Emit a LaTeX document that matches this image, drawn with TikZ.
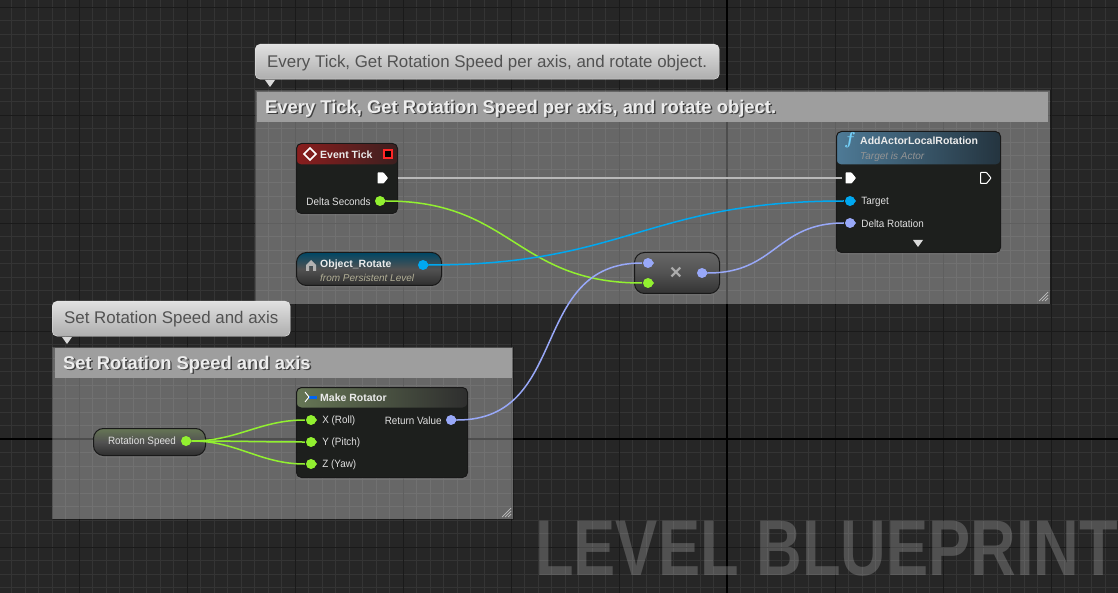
\documentclass[tikz,border=0pt]{standalone}
\usepackage{fontspec}
\setmainfont{Liberation Sans}
\newfontfamily\stampfont[FakeStretch=0.8]{Liberation Sans}
\newfontfamily\pinfont[FakeStretch=0.93]{Liberation Sans}
\usetikzlibrary{positioning, shadows}
\definecolor{canvas}{HTML}{262626}
\definecolor{gridfine}{HTML}{343434}
\definecolor{gridbig}{HTML}{1A1A1A}
\definecolor{wirefloat}{HTML}{92F030}
\definecolor{wireobject}{HTML}{00A8F0}
\definecolor{wirerotator}{HTML}{98A8F8}
\definecolor{wireexec}{HTML}{B8B8B8}
\definecolor{bodydark}{HTML}{1D1F1D}
\definecolor{eventleft}{HTML}{8A1E1E}
\definecolor{eventright}{HTML}{3C1F1F}
\definecolor{callleft}{HTML}{4E7A96}
\definecolor{callright}{HTML}{24343F}
\newcommand{\shadowed}[1]{\rlap{\raisebox{-1.4pt}{\hspace{1.4pt}\textcolor{black!75}{#1}}}#1} % title with its dark edge
\tikzset{
	commentbox/.style={fill=white, fill opacity=0.3, draw=black, draw opacity=0.25, anchor=north west, inner sep=0pt}, % the see-through group
	titlebar/.style={fill=white!62!black, anchor=north west, inner sep=0pt}, % the band on top of a group
	titletext/.style={font=\fontsize{18.4}{22}\selectfont\bfseries, text=white!93!black, anchor=west, inner sep=0pt},
	bubble/.style={top color=white!88!black, bottom color=white!68!black, draw=white!92!black, rounded corners=5pt, anchor=north west, inner sep=0pt, minimum height=35pt},
	bubbletext/.style={font=\fontsize{16.9}{20}\selectfont, text=black!68, anchor=west, inner sep=0pt},
	nodeshadow/.style={drop shadow={opacity=0.35, shadow xshift=0pt, shadow yshift=-2pt}},
	bpnode/.style={draw=black!90, line width=1pt, fill=bodydark, rounded corners=5pt, anchor=north west, inner sep=0pt, nodeshadow}, % every blueprint node
	header/.style n args={3}{path picture={\shade[left color=#1, right color=#2] (path picture bounding box.north west) rectangle ([yshift=-#3]path picture bounding box.north east);}},
	pill/.style n args={3}{draw=black!90, line width=1pt, nodeshadow, top color=#1, bottom color=#3, middle color=#2, rounded corners=10pt, anchor=north west, inner sep=0pt},
	datapin/.style={minimum width=12pt, minimum height=11pt, inner sep=0pt, path picture={
		\fill[#1] (path picture bounding box.center) circle (5pt);
		\fill[#1] ([shift={(3pt,3.5pt)}]path picture bounding box.center) -- ([xshift=6pt]path picture bounding box.center) -- ([shift={(3pt,-3.5pt)}]path picture bounding box.center) -- cycle;}},
	execpin/.style={minimum width=13pt, minimum height=13pt, inner sep=0pt, path picture={
		\path[#1, line width=1pt, rounded corners=0.6pt] ([shift={(-4.5pt,5.5pt)}]path picture bounding box.center) -- ([shift={(1.5pt,5.5pt)}]path picture bounding box.center) -- ([xshift=6pt]path picture bounding box.center) -- ([shift={(1.5pt,-5.5pt)}]path picture bounding box.center) -- ([shift={(-4.5pt,-5.5pt)}]path picture bounding box.center) -- cycle;}},
	pintext/.style={font=\fontsize{10.6}{12}\selectfont\pinfont, text=white!88!black, inner sep=0pt, yshift=-1pt},
	headtext/.style={font=\fontsize{10.5}{12}\selectfont\bfseries, text=white!92!black, anchor=west, inner sep=0pt},
	subtext/.style={font=\fontsize{10}{12}\selectfont\itshape, text=#1, anchor=west, inner sep=0pt},
	wire/.style={draw=#1, line width=1.5pt, out=0, in=180},
	gripline/.style={draw=white!75!black, line width=0.7pt},
}

\begin{document}
\begin{tikzpicture}[x=1pt, y=-1pt]
	\useasboundingbox (0,0) rectangle (1118,593);
	\fill[canvas] (0,0) rectangle (1118,593);
	% grid
	\foreach \k in {0,...,82} \draw[gridfine, line width=0.8pt] ({11.5+13.5*\k},0) -- ({11.5+13.5*\k},593);
	\foreach \k in {0,...,43} \draw[gridfine, line width=0.8pt] (0,{7+13.5*\k}) -- (1118,{7+13.5*\k});
	\foreach \k in {0,...,10} \draw[gridbig, line width=0.8pt] ({79+108*\k},0) -- ({79+108*\k},593);
	\foreach \k in {0,...,5} \draw[gridbig, line width=0.8pt] (0,{7+108*\k}) -- (1118,{7+108*\k});
	\draw[black, line width=1.3pt] (727,0) -- (727,593);
	\draw[black, line width=1.3pt] (0,439) -- (1118,439);

	% watermark
	\node[font=\fontsize{79}{80}\selectfont\stampfont\bfseries, text=white, text opacity=0.2, anchor=west, inner sep=0pt] (stamp) at (535,549) {LEVEL BLUEPRINT};

	% group for the tick
	\node[commentbox, minimum width=795pt, minimum height=214pt] (tickgroup) at (255,90) {};
	\node[titlebar, minimum width=791pt, minimum height=30pt] (tickbar) at (257,92) {};
	\node[titletext] (ticktitle) at (265,109) {\shadowed{Every Tick, Get Rotation Speed per axis, and rotate object.}};
	\node[bubble, minimum width=464pt] (tickbubble) at (255,44) {};
	\node[bubbletext] (tickbubbletext) at (267,63) {Every Tick, Get Rotation Speed per axis, and rotate object.};
	\fill[white!85!black] (265,80) -- (275,80) -- (270,87) -- cycle;
	\foreach \d in {3,6,9} \draw[gripline] (1048-\d,301) -- (1048,301-\d);

	% group for the speed
	\node[commentbox, minimum width=461pt, minimum height=172pt] (speedgroup) at (52,347) {};
	\node[titlebar, minimum width=457pt, minimum height=30pt] (speedbar) at (55,348) {};
	\node[titletext] (speedtitle) at (63,365) {\shadowed{Set Rotation Speed and axis}};
	\node[bubble, minimum width=238pt] (speedbubble) at (52,301) {};
	\node[bubbletext] (speedbubbletext) at (64,319) {Set Rotation Speed and axis};
	\fill[white!85!black] (62,337) -- (72,337) -- (67,344) -- cycle;
	\foreach \d in {3,6,9} \draw[gripline] (511-\d,517) -- (511,517-\d);

	% event node
	\node[bpnode, minimum width=101pt, minimum height=70pt, header={eventleft}{eventright}{21pt}] (tick) at (296,143) {};
	\draw[white, line width=1.6pt] (304,154) -- (310,148) -- (316,154) -- (310,160) -- cycle;
	\node[headtext] (ticklabel) at (320,155) {Event Tick};
	\draw[red!85!white, fill=black, line width=1.2pt] (384,150) rectangle (392,158);
	\node[execpin={fill=white}] (tickexec) at (382,178) {};
	\node[datapin=wirefloat] (tickdelta) at (380,201) {};
	\node[pintext, left=3pt of tickdelta] (tickdeltalabel) {Delta Seconds};

	% object node
	\node[pill={wireobject!42!black}{black!68}{black!82}, minimum width=145pt, minimum height=33pt] (object) at (296,252) {};
	\fill[black!30] (306,265) -- (311,260) -- (316,265) -- (316,271) -- (313,271) -- (313,266) -- (309,266) -- (309,271) -- (306,271) -- cycle;
	\node[headtext] (objectlabel) at (320,265) {Object\_Rotate};
	\node[subtext=yellow!30!black!50!white] (objectsub) at (320,278) {from Persistent Level};
	\node[datapin=wireobject] (objectout) at (423,265) {};

	% multiply node
	\node[pill={black!60}{black!68}{black!80}, minimum width=85pt, minimum height=41pt] (times) at (634,252) {};
	\node[datapin=wirerotator] (timesa) at (648,263) {};
	\node[datapin=wirefloat] (timesb) at (648,283) {};
	\node[datapin=wirerotator] (timesout) at (702,273) {};
	\node[font=\fontsize{21}{22}\selectfont\bfseries, text=white!68!black, inner sep=0pt] (timeslabel) at (676,273) {×};

	% function node
	\node[bpnode, minimum width=164pt, minimum height=121pt, header={callleft}{callright}{33pt}] (rotate) at (836,131) {};
	\node[font=\fontsize{19}{20}\selectfont\boldmath, text=wireobject!55!white, inner sep=0pt] (rotateicon) at (850,140) {$f$};
	\node[headtext] (rotatelabel) at (860,141) {AddActorLocalRotation};
	\node[subtext=white!58!black] (rotatesub) at (860,157) {Target is Actor};
	\node[execpin={fill=white}] (rotatein) at (850,178) {};
	\node[execpin={draw=white}] (rotateoutexec) at (985,178) {};
	\node[datapin=wireobject] (rotatetarget) at (850,201) {};
	\node[pintext, right=5pt of rotatetarget] (rotatetargetlabel) {Target};
	\node[datapin=wirerotator] (rotatedelta) at (850,223) {};
	\node[pintext, right=5pt of rotatedelta] (rotatedeltalabel) {Delta Rotation};
	\fill[white!85!black] (913,240) -- (923,240) -- (918,247) -- cycle;

	% make rotator node
	\node[bpnode, minimum width=171pt, minimum height=90pt, header={wirefloat!25!black!70!white}{black!82}{20pt}] (maker) at (296,387) {};
	\fill[wireobject!60!blue] (309,395.5) rectangle (317,399);
	\draw[white, line width=0.9pt] (305,392) -- (309,397) -- (305,402);
	\node[headtext] (makerlabel) at (320,398) {Make Rotator};
	\node[datapin=wirefloat] (makerx) at (311,420) {};
	\node[pintext, right=5pt of makerx] (makerxlabel) {X (Roll)};
	\node[datapin=wirefloat] (makery) at (311,442) {};
	\node[pintext, right=5pt of makery] (makerylabel) {Y (Pitch)};
	\node[datapin=wirefloat] (makerz) at (311,464) {};
	\node[pintext, right=5pt of makerz] (makerzlabel) {Z (Yaw)};
	\node[datapin=wirerotator] (makerout) at (451,420) {};
	\node[pintext, left=3pt of makerout] (makeroutlabel) {Return Value};

	% speed variable
	\node[pill={wirefloat!25!black!70!white}{black!68}{black!82}, minimum width=112pt, minimum height=27pt] (speed) at (93,428) {};
	\node[pintext] (speedlabel) at (142,441) {Rotation Speed};
	\node[datapin=wirefloat] (speedout) at (186,441) {};

	% wires
	\draw[wire=wireexec, shorten <=9pt, shorten >=1pt] (tickexec) to (rotatein);
	\draw[wire=wirefloat] (tickdelta) to[looseness=1.2] (timesb);
	\draw[wire=wireobject] (objectout) to[looseness=1.2] (rotatetarget);
	\draw[wire=wirerotator] (makerout) to[looseness=1.2] (timesa);
	\draw[wire=wirerotator] (timesout) to[looseness=1.2] (rotatedelta);
	\draw[wire=wirefloat] (speedout) to (makerx);
	\draw[wire=wirefloat] (speedout) to (makery);
	\draw[wire=wirefloat] (speedout) to (makerz);
\end{tikzpicture}
\end{document}
